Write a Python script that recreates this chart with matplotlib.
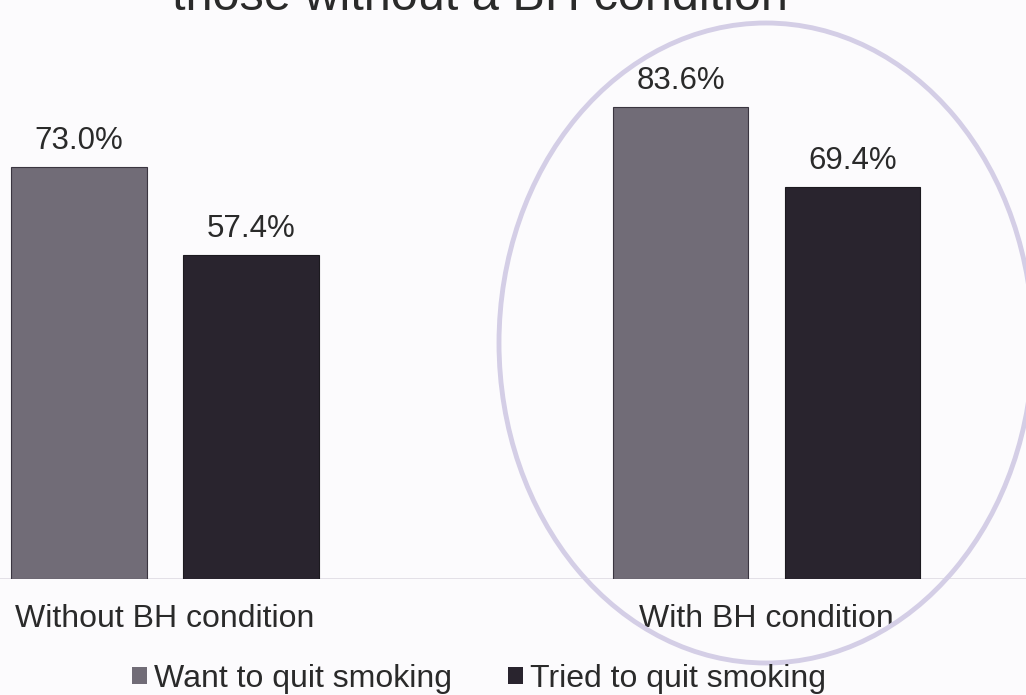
import matplotlib
matplotlib.use("Agg")
import matplotlib.pyplot as plt
from matplotlib.patches import Patch, Ellipse
import numpy as np

plt.rcParams['font.family'] = ['Liberation Sans', 'DejaVu Sans']

# data
groups = ["Without BH condition", "With BH condition"]
series = ["Want to quit smoking", "Tried to quit smoking"]
want = [73.0, 83.6]
tried = [57.4, 69.4]
title = "those without a BH condition"

colors = ['#716c77', '#29242e']
txt = '#2a2a2a'
bg = '#fcfbfd'

fig = plt.figure(figsize=(10.26, 6.95), dpi=100, facecolor=bg)
ax = fig.add_axes([0, 116 / 695, 1, 579 / 695])
ax.set_facecolor(bg)

x = np.arange(len(groups))
w = 0.226
off = 0.143
b1 = ax.bar(x - off, want, w, color=colors[0], edgecolor='#3a3540', linewidth=0.8)
b2 = ax.bar(x + off, tried, w, color=colors[1], edgecolor='#1c1a1f', linewidth=0.8)

for b in (b1, b2):
    ax.bar_label(b, labels=[f"{v:.1f}%" for v in b.datavalues], padding=8,
                 fontsize=22.5, color=txt)

ax.axhline(0, color='#dedbe3', lw=1.2, zorder=0)
ax.set_xlim(-0.2743, 1.4314)
ax.set_ylim(0, 102.57)
ax.set_xticks(x)
ax.set_xticklabels(groups, fontsize=23, color=txt)
ax.tick_params(axis='x', length=0, pad=18)
ax.set_yticks([])
for s in ax.spines.values():
    s.set_visible(False)

# title, cut off at the top of the picture (as in the scan)
fig.text(480 / 1026, 1 - 10 / 695, title, ha='center', va='baseline',
         fontsize=35, color=txt)

# hand-drawn circle around the right group
ell = Ellipse((766 / 1026, 1 - 343 / 695), 534 / 1026, 640 / 695,
              transform=fig.transFigure, fill=False, edgecolor='#d4cee6',
              linewidth=3.5, zorder=5)
fig.add_artist(ell)

handles = [Patch(facecolor=colors[0], edgecolor='none'),
           Patch(facecolor=colors[1], edgecolor='none')]
fig.legend(handles, series, loc='center', bbox_to_anchor=(479 / 1026, 1 - 679 / 695),
           ncol=2, frameon=False, fontsize=23, handlelength=0.47, handleheight=0.47,
           handletextpad=0.22, columnspacing=1.75, labelcolor=txt)

fig.savefig('out.png', dpi=100, facecolor=bg)
